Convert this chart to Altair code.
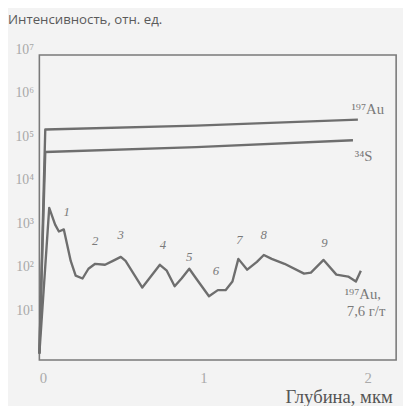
import altair as alt
import pandas as pd

# Noisy 197Au (7,6 g/t) depth profile
au_x = [0.0, 0.060, 0.096, 0.119, 0.149, 0.191, 0.221, 0.263, 0.299, 0.340, 0.400, 0.448,
        0.496, 0.525, 0.627, 0.734, 0.776, 0.824, 0.866, 0.913, 0.955, 1.033, 1.087, 1.134,
        1.176, 1.212, 1.266, 1.325, 1.367, 1.415, 1.493, 1.612, 1.654, 1.731, 1.809, 1.881,
        1.928, 1.958]
au_y = [1.4, 3090, 1280, 890, 990, 188, 86, 74, 124, 161, 153, 188,
        232, 188, 46, 153, 112, 49, 74, 124, 74, 29, 40, 40,
        63, 209, 118, 179, 257, 209, 161, 96, 101, 198, 91, 82,
        63, 112]

# Matrix 197Au line
au197_x = [0.0, 0.036, 0.955, 1.94]
au197_y = [1.4, 1.96e5, 2.4e5, 3.3e5]

# 34S line
s_x = [0.0, 0.036, 0.955, 1.91]
s_y = [1.4, 5.96e4, 7.7e4, 1.11e5]

# numbered peak labels
num_text = ["1", "2", "3", "4", "5", "6", "7", "8", "9"]
num_x = [0.167, 0.340, 0.496, 0.752, 0.913, 1.075, 1.218, 1.367, 1.737]
num_y = [2500, 530, 725, 430, 232, 112, 560, 725, 480]

# series labels
lab_text = ["¹⁹⁷Au", "³⁴S", "¹⁹⁷Au,", "7,6 г/т"]
lab_x = [2.0, 1.975, 1.97, 1.99]
lab_y = [5.9e5, 4.8e4, 32, 13.4]

rows = []
for s, xs_, ys_ in [("au", au_x, au_y), ("au197", au197_x, au197_y), ("s", s_x, s_y)]:
    for i, (x, y) in enumerate(zip(xs_, ys_)):
        rows.append({"series": s, "x": x, "y": y, "order": i})
df = pd.DataFrame(rows)

xs = alt.Scale(domain=[0, 2.173], nice=False, zero=False)
ys = alt.Scale(type="log", domain=[1, 1e7], nice=False)

lines = alt.Chart(df).mark_line(color="#6e6e6e", strokeWidth=2.4, strokeJoin="round").encode(
    x=alt.X("x:Q", scale=xs, axis=alt.Axis(
        values=[0, 1, 2], format="d", grid=False, domain=False, ticks=False,
        labelFont="Liberation Serif", labelFontSize=15, labelColor="#aaaaaa", labelPadding=11,
        title="Глубина, мкм", titleFont="Liberation Serif", titleFontSize=19, titleFontWeight="normal",
        titleColor="#555555", titleAlign="right", titleAnchor="end", titleX=360, titleY=37,
        titleBaseline="middle")),
    y=alt.Y("y:Q", scale=ys, axis=alt.Axis(
        values=[10, 100, 1000, 1e4, 1e5, 1e6, 1e7], grid=False, domain=False, ticks=False,
        labelExpr="'10' + ['⁰','¹','²','³','⁴','⁵','⁶','⁷'][round(log(datum.value)/LN10)]",
        labelFont="Liberation Serif", labelFontSize=14, labelColor="#a8a8a8", labelPadding=6,
        labelOffset=-6, title=None)),
    detail="series:N",
    order="order:Q",
)

nums = alt.Chart(pd.DataFrame({"t": num_text, "x": num_x, "y": num_y})).mark_text(
    font="Liberation Serif", fontSize=13, fontStyle="italic", color="#7a7a7a"
).encode(x=alt.X("x:Q", scale=xs), y=alt.Y("y:Q", scale=ys), text="t:N")

labs = alt.Chart(pd.DataFrame({"t": lab_text, "x": lab_x, "y": lab_y})).mark_text(
    font="Liberation Serif", fontSize=15, color="#7a7a7a"
).encode(x=alt.X("x:Q", scale=xs), y=alt.Y("y:Q", scale=ys), text="t:N")

title = alt.Chart(pd.DataFrame({"t": ["Интенсивность, отн. ед."]})).mark_text(
    font="Open Sans", fontSize=13.5, color="#5a5a5a", align="left", baseline="middle"
).encode(x=alt.value(-32), y=alt.value(-36), text="t:N")

chart = alt.layer(lines, nums, labs, title).properties(
    width=364, height=311,
    autosize=alt.AutoSizeParams(type="none"),
    padding={"left": 32, "top": 44, "right": 7, "bottom": 44},
    background="#f3f3f3",
).configure_view(stroke="#7a7a7a", strokeWidth=1.6)

chart.save("out.html", embed_options={"renderer": "svg", "actions": False})
